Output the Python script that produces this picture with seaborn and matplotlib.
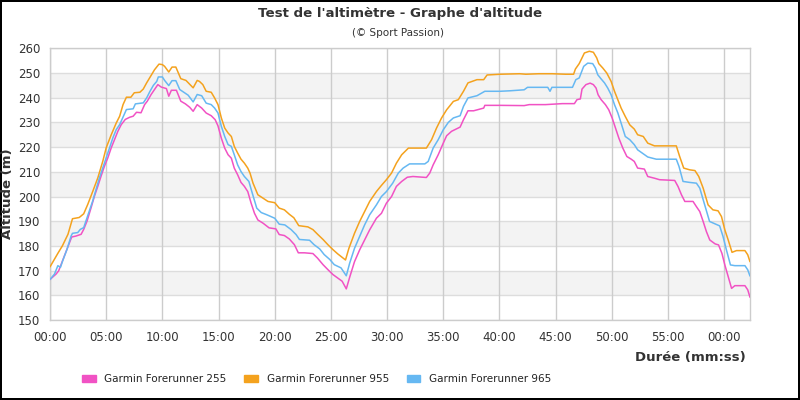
import matplotlib
matplotlib.use("Agg")
import matplotlib.pyplot as plt
from matplotlib.patches import Patch
import seaborn as sns
import pandas as pd

# ---- data (minutes, metres) ----
series_names = ["Garmin Forerunner 255", "Garmin Forerunner 955", "Garmin Forerunner 965"]
colors = ["#f152c4", "#f4a21e", "#66b8f2"]

t_955 = [0.0, 0.7, 1.1, 1.6, 2.0, 2.6, 3.0, 3.36, 3.8, 4.26, 4.7, 5.0, 5.45, 5.9, 6.2, 6.5, 6.8, 7.2, 7.5, 8.0,
         8.3, 8.6, 9.0, 9.3, 9.7, 10.0, 10.2, 10.57, 10.86, 11.2, 11.64, 12.1, 12.74, 13.1, 13.3, 13.6, 13.9,
         14.35, 14.65, 14.95, 15.25, 15.55, 15.85, 16.14, 16.4, 16.7, 17.0, 17.3, 17.6, 17.8, 18.07, 18.5,
         18.96, 19.4, 20.0, 20.4, 20.86, 21.3, 21.7, 22.14, 22.95, 23.4, 23.84, 24.3, 24.73, 25.18, 25.6,
         26.07, 26.3, 26.6, 27.1, 27.56, 28.0, 28.45, 29.05, 29.5, 29.94, 30.4, 30.83, 31.3, 31.9, 33.5,
         33.96, 34.4, 34.85, 35.3, 35.9, 36.34, 36.8, 37.2, 38.0, 38.6, 38.9, 40.06, 41.8, 42.35, 43.5,
         44.7, 45.9, 46.6, 46.76, 47.1, 47.56, 48.0, 48.36, 48.66, 48.84, 49.2, 49.55, 49.94, 50.24, 50.54,
         50.83, 51.2, 51.6, 52.0, 52.3, 52.8, 53.2, 53.8, 55.74, 56.04, 56.4, 56.93, 57.4, 57.74, 58.13,
         58.57, 59.0, 59.46, 59.76, 60.06, 60.36, 60.7, 61.1, 61.85, 62.1, 62.3]
alt_955 = [171.5, 177, 180, 184.7, 191, 191.5, 193, 196.8, 202, 207.6, 214.3, 219.7, 225, 229.8, 232.5, 237.2,
           240.2, 240.2, 242, 242.2, 243.5, 246, 249, 251.3, 253.6, 253.4, 252.7, 250.4, 252.4, 252.4, 247.7,
           247, 244, 247, 246.6, 245.3, 242.6, 242.2, 239.9, 237.2, 231.8, 227.7, 225.7, 224.3, 220.3, 217.6,
           215.1, 213.5, 211.5, 209.5, 205.4, 200.7, 199.3, 198, 197.5, 195.3, 194.6, 192.8, 191.4, 188.2,
           187.7, 186.6, 184.6, 182.6, 180.5, 178.5, 176.8, 175.1, 174.3, 179, 185.1, 189.9, 193.9, 198, 202,
           204.5, 206.8, 209.5, 213.5, 216.9, 219.6, 219.6, 223, 227.7, 231.8, 235.1, 238.5, 239.2, 242.6,
           246, 247.3, 247.3, 249.2, 249.5, 249.7, 249.5, 249.7, 249.7, 249.5, 249.5, 251.6, 253.8, 258.1,
           258.8, 258.4, 256.1, 253.8, 252, 250, 246.6, 242.6, 239.2, 235.8, 232.4, 229, 227.3, 225, 224.3,
           221.6, 220.5, 220.5, 216.2, 211.5, 210.8, 210.5, 208.1, 203.4, 196.6, 194.6, 194.2, 191.9, 186.5,
           182.4, 177.4, 178.1, 178.1, 176.4, 173.6]

t_965 = [0.0, 0.4, 0.7, 0.93, 1.13, 1.52, 1.88, 2.0, 2.47, 2.7, 3.0, 3.2, 3.5, 3.8, 4.1, 4.4, 4.7, 5.0, 5.3,
         5.6, 5.9, 6.2, 6.5, 6.8, 7.4, 7.6, 8.3, 8.6, 8.9, 9.2, 9.5, 9.64, 10.0, 10.2, 10.57, 10.86, 11.2,
         11.55, 12.0, 12.3, 12.74, 13.1, 13.5, 13.9, 14.35, 14.65, 14.95, 15.25, 15.55, 15.85, 16.14, 16.4,
         16.7, 17.0, 17.3, 17.7, 18.0, 18.4, 18.8, 19.3, 20.0, 20.4, 20.9, 21.46, 21.9, 22.2, 23.1, 23.5,
         24.0, 24.4, 24.9, 25.3, 25.9, 26.37, 26.67, 27.1, 27.56, 28.0, 28.45, 29.05, 29.5, 29.94, 30.5,
         31.0, 31.43, 32.0, 33.36, 33.66, 34.1, 34.55, 35.0, 35.45, 35.9, 36.5, 36.8, 37.2, 38.0, 38.7,
         40.06, 40.95, 42.2, 42.5, 44.3, 44.5, 44.67, 46.5, 46.8, 47.1, 47.5, 47.86, 48.3, 48.54, 48.75,
         49.05, 49.35, 49.64, 49.94, 50.24, 50.54, 50.83, 51.2, 51.6, 52.0, 52.3, 53.2, 53.96, 55.74, 55.98,
         56.34, 56.93, 57.53, 57.83, 58.27, 58.7, 59.2, 59.6, 59.9, 60.2, 60.56, 60.95, 61.85, 62.1, 62.3]
alt_965 = [166.4, 168.6, 172, 171.3, 174, 178.7, 184, 185.1, 185.4, 186.7, 187.4, 190.1, 194.1, 198.2, 202.9,
           207.6, 211.6, 215.7, 219.7, 223.8, 227.1, 229.1, 232.1, 235.2, 235.5, 237.5, 237.9, 239.9, 242.6,
           245, 246.6, 248.4, 248.4, 247, 244.9, 246.9, 246.9, 243.3, 241.9, 241, 238.3, 241.3, 240.8, 237.8,
           237.2, 235.8, 233.8, 228.4, 224.3, 221, 220.3, 216.9, 212.8, 210.1, 208.1, 206.1, 201.4, 195.3,
           193.5, 192.6, 191.2, 188.8, 188.5, 186.6, 184.6, 182.6, 182.3, 180.5, 178.8, 176.5, 174.5, 172.4,
           171.1, 167.9, 173, 179, 183.8, 188.5, 192.6, 196.6, 200, 202, 205.4, 209.5, 211.5, 213.2, 213.2,
           214.2, 219.6, 223, 227, 230, 231.8, 232.7, 236.5, 239.9, 240.8, 242.6, 242.6, 242.8, 243.2, 244.2,
           244.2, 242.6, 244.2, 244.2, 247.3, 248, 252.7, 254, 253.8, 252, 249.3, 247.6, 246, 243.9, 241.2,
           237.2, 233.8, 229.7, 224.3, 223, 221, 218.9, 216, 215.1, 215.1, 212.2, 206.1, 205.7, 205.4, 203.4,
           196.6, 189.9, 188.9, 188.1, 183.8, 178.4, 172.3, 172, 172, 170.3, 167.8]

t_255 = [0.0, 0.54, 0.77, 1.0, 1.28, 1.58, 1.93, 2.32, 2.77, 3.0, 3.3, 3.66, 3.96, 4.26, 4.55, 4.85, 5.15, 5.45,
         5.75, 6.04, 6.34, 6.7, 7.1, 7.4, 7.7, 8.1, 8.42, 8.66, 9.0, 9.3, 9.6, 9.9, 10.36, 10.57, 10.8, 11.25,
         11.64, 12.05, 12.44, 12.74, 13.1, 13.5, 13.9, 14.35, 14.7, 14.95, 15.25, 15.55, 15.85, 16.14, 16.4,
         16.7, 17.0, 17.3, 17.6, 17.9, 18.2, 18.5, 18.96, 19.5, 20.1, 20.4, 20.86, 21.3, 21.75, 22.1, 22.65,
         23.4, 23.8, 24.3, 24.73, 25.18, 25.6, 26.0, 26.37, 26.67, 27.1, 27.56, 28.0, 28.45, 29.05, 29.5,
         29.94, 30.4, 30.83, 31.3, 31.8, 32.3, 33.5, 33.8, 34.1, 34.55, 35.0, 35.3, 35.74, 36.5, 36.8, 37.2,
         37.7, 38.6, 38.7, 40.06, 42.2, 42.65, 44.1, 45.6, 46.67, 46.9, 47.2, 47.35, 47.7, 48.07, 48.36, 48.6,
         48.78, 49.05, 49.43, 49.73, 50.03, 50.33, 50.63, 50.98, 51.34, 51.73, 52.0, 52.3, 52.9, 53.2, 53.8,
         54.25, 55.6, 55.9, 56.2, 56.5, 57.23, 57.53, 57.83, 58.13, 58.42, 58.72, 59.2, 59.5, 59.8, 60.06,
         60.36, 60.66, 60.95, 61.85, 62.1, 62.3]
alt_255 = [166.4, 168.6, 169.9, 172.6, 176, 179.3, 183.6, 184, 184.7, 186.7, 190.1, 195.5, 200.2, 204.2, 208.3,
           212.3, 215.7, 219.7, 223.1, 226.4, 229.1, 231.2, 232.1, 232.5, 234.1, 233.9, 237.2, 238.6, 241.3,
           243.3, 245.3, 244.3, 243.7, 240.6, 243, 243, 238.6, 237.5, 236.1, 234.5, 237.2, 235.8, 233.8, 232.7,
           231.1, 228.6, 223.6, 219.6, 216.9, 215.5, 211.5, 208.8, 205.7, 204.1, 202, 197.3, 193.2, 190.5,
           189.2, 187.3, 186.9, 184.6, 184.2, 182.8, 180.5, 177.2, 177.2, 176.9, 175.1, 172.4, 170.4, 168.4,
           167, 165.7, 162.6, 167.3, 173.6, 178.4, 182.4, 186.5, 191.2, 193.2, 197.3, 200, 204.1, 206.1, 207.8,
           208.1, 207.7, 209.5, 212.8, 216.9, 221.6, 224.6, 226.4, 228.1, 231.1, 234.7, 234.7, 235.8, 236.9,
           236.9, 236.8, 237.2, 237.2, 237.6, 237.6, 239.2, 239.5, 243.5, 245.3, 245.9, 245.3, 243.9, 241.2,
           239.2, 237.2, 235.1, 231.8, 227.7, 223.6, 219.6, 216.2, 215.1, 214.2, 211.5, 211.1, 208.1, 207.4,
           206.8, 206.5, 204, 200.7, 198, 198, 195.9, 193.9, 189.9, 185.8, 182.4, 180.8, 180.4, 177, 172.3,
           167.6, 162.8, 163.9, 163.9, 162.2, 159.2]

x_ticks = [0, 5, 10, 15, 20, 25, 30, 35, 40, 45, 50, 55, 60]
x_tick_labels = ["00:00", "05:00", "10:00", "15:00", "20:00", "25:00", "30:00", "35:00", "40:00",
                 "45:00", "50:00", "55:00", "00:00"]
y_ticks = [150, 160, 170, 180, 190, 200, 210, 220, 230, 240, 250, 260]

# ---- build long table ----
frames = []
for name, t, a in zip(series_names, [t_255, t_955, t_965], [alt_255, alt_955, alt_965]):
    frames.append(pd.DataFrame({"t": t, "alt": a, "device": name}))
df = pd.concat(frames, ignore_index=True)
palette = dict(zip(series_names, colors))

sns.set_theme(style="white")
plt.rcParams["font.family"] = ["DejaVu Sans"]
text_col = "#333333"

fig = plt.figure(figsize=(8, 4), dpi=100, facecolor="white", edgecolor="black", linewidth=1.5)
ax = fig.add_axes([50 / 800, 1 - 320 / 400, 700 / 800, (320 - 48.3) / 400])

# alternating bands + grid
for lo in [160, 180, 200, 220, 240]:
    ax.axhspan(lo, lo + 10, color="#f3f3f3", zorder=0, lw=0)
for yv in y_ticks:
    ax.axhline(yv, color="#dddddd", lw=1, zorder=0.5)
for xv in x_ticks:
    ax.axvline(xv, color="#cccccc", lw=1, zorder=0.5)

sns.lineplot(data=df, x="t", y="alt", hue="device", palette=palette, estimator=None, sort=False,
             linewidth=1.1, ax=ax, legend=False, zorder=3)

ax.set_xlim(0, 62.3)
ax.set_ylim(150, 260)
ax.set_xticks(x_ticks)
ax.set_xticklabels(x_tick_labels)
ax.set_yticks(y_ticks)
ax.tick_params(axis="both", length=0, labelsize=8.5, colors=text_col, pad=7)
ax.tick_params(axis="x", pad=8)
for s in ax.spines.values():
    s.set_color("#cccccc")
    s.set_linewidth(1)
ax.set_xlabel("")
ax.set_ylabel("")

fig.text(400 / 800, 1 - 13 / 400, "Test de l'altimètre - Graphe d'altitude", ha="center", va="center",
         fontsize=9.6, fontweight="bold", color=text_col)
fig.text(398 / 800, 1 - 33 / 400, "(© Sport Passion)", ha="center", va="center", fontsize=7.5, color=text_col)
fig.text(8 / 800, 1 - 194 / 400, "Altitude (m)", rotation=90, ha="center", va="center", fontsize=9.5,
         fontweight="bold", color=text_col)
fig.text(746 / 800, 1 - 357 / 400, "Durée (mm:ss)", ha="right", va="center", fontsize=9.5,
         fontweight="bold", color=text_col)

handles = [Patch(facecolor=c, edgecolor=c) for c in colors]
fig.legend(handles, series_names, loc="center left", bbox_to_anchor=(82 / 800, 1 - 379 / 400), ncol=3,
           frameon=False, fontsize=7.5, handletextpad=0.83, columnspacing=1.73, handlelength=1.3,
           handleheight=0.75, borderpad=0, borderaxespad=0, labelcolor="#222222")

fig.savefig("out.png", dpi=100, facecolor="white", edgecolor="black")
